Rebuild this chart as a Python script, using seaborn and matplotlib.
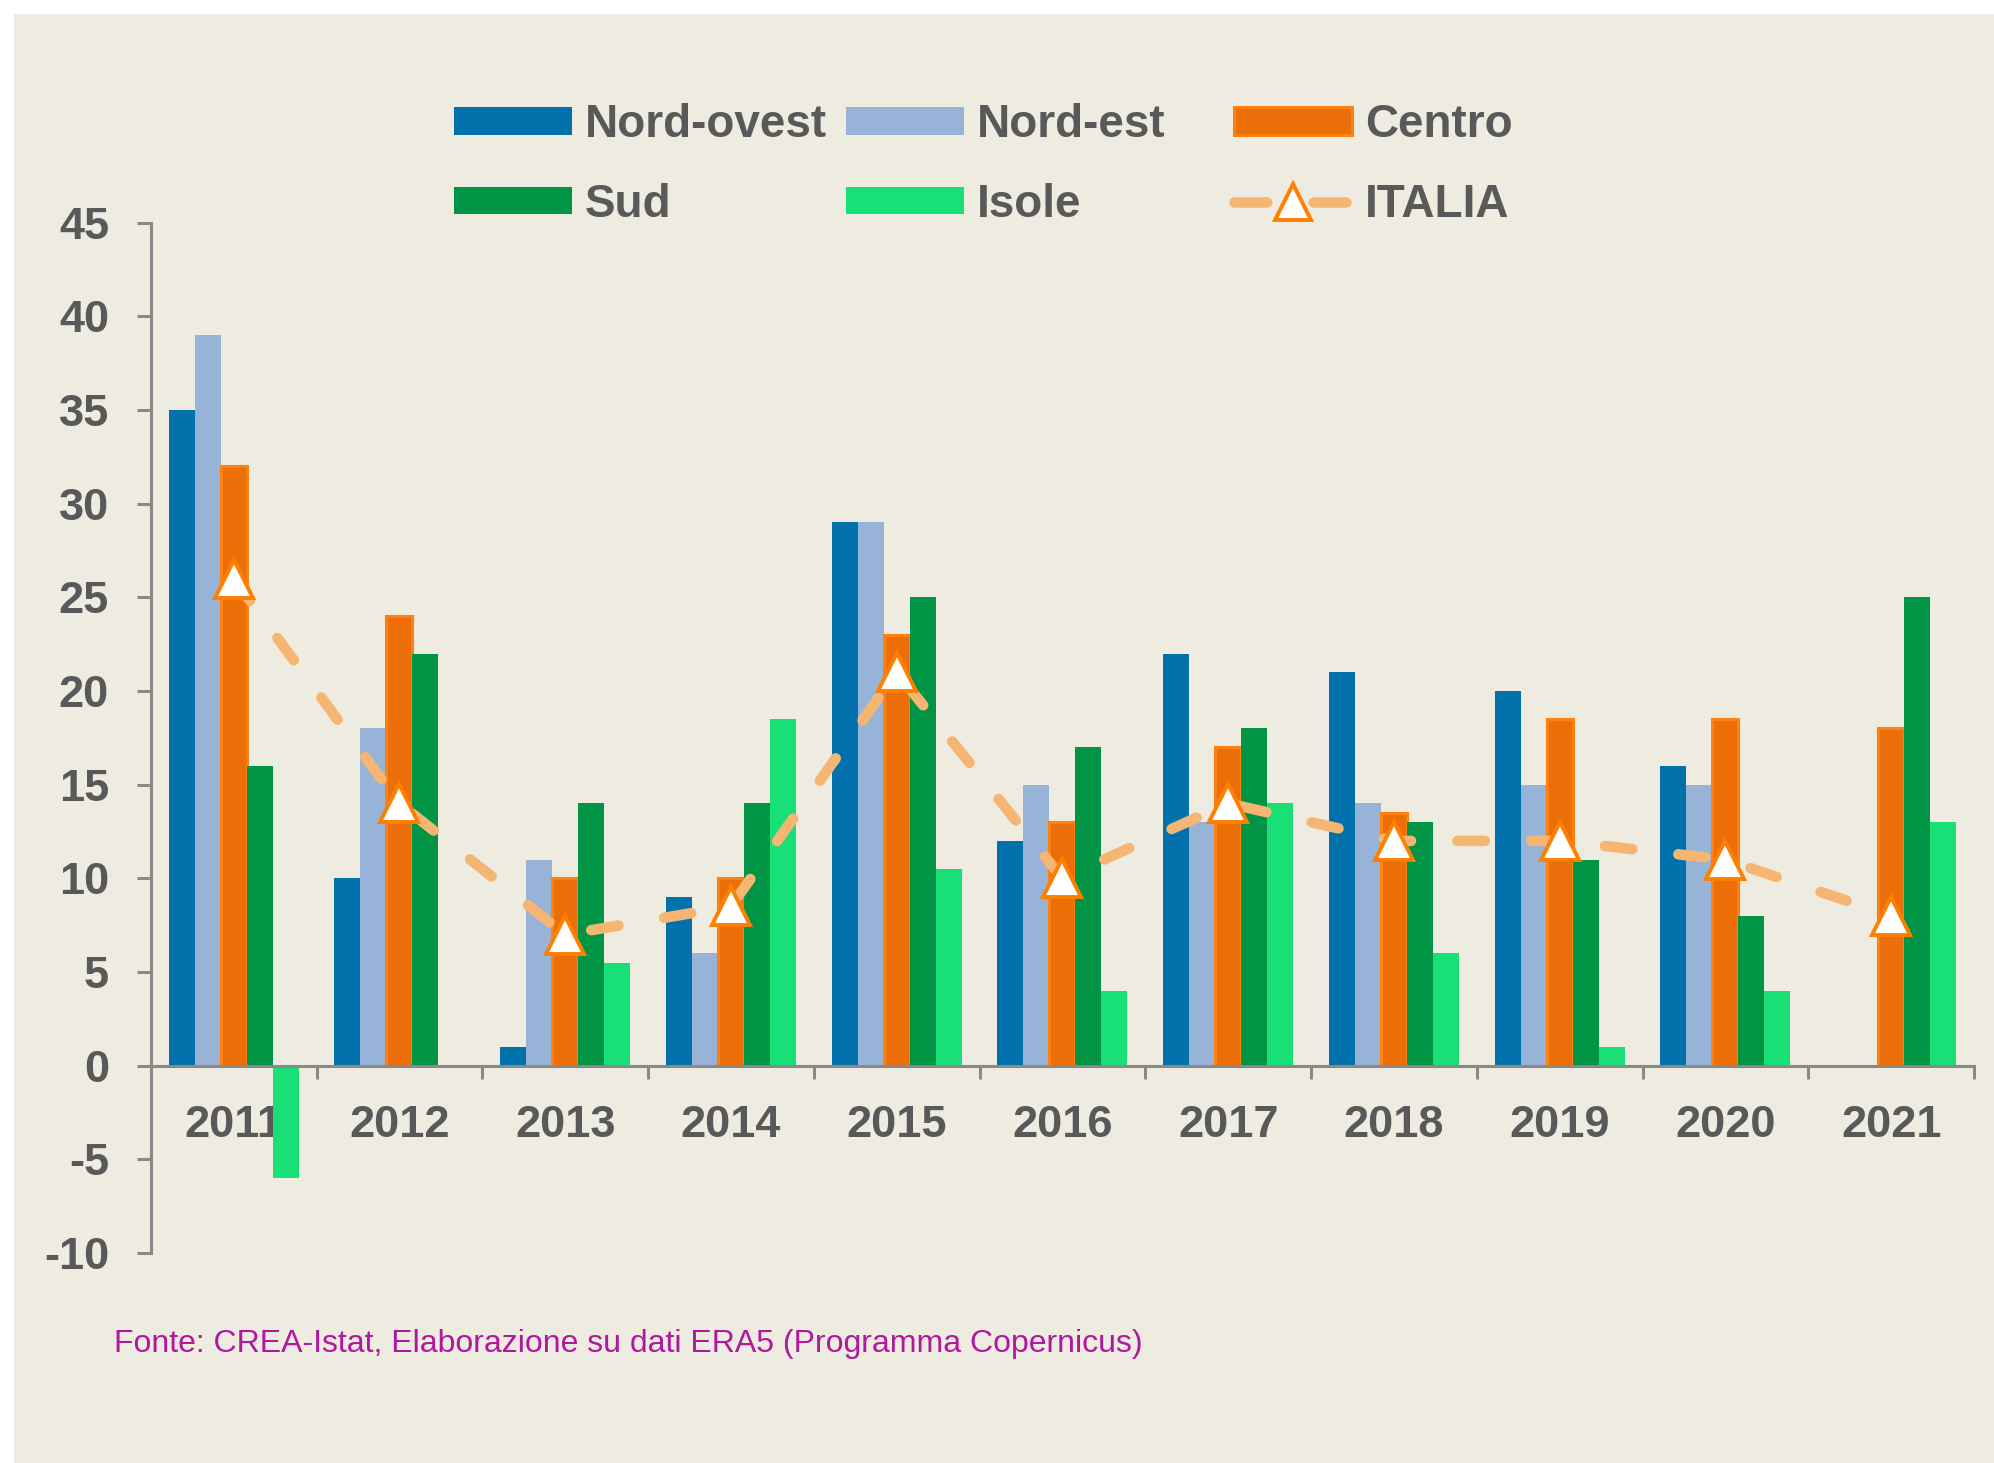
import numpy as np
import pandas as pd
import matplotlib
matplotlib.use("Agg")
import matplotlib.pyplot as plt
import matplotlib.colors as mcolors
import seaborn as sns
from matplotlib.patches import Rectangle, Patch
from matplotlib.lines import Line2D

# ---------------- data ----------------
years = ["2011", "2012", "2013", "2014", "2015", "2016",
         "2017", "2018", "2019", "2020", "2021"]
nord_ovest = [35, 10, 1, 9, 29, 12, 22, 21, 20, 16, np.nan]
nord_est = [39, 18, 11, 6, 29, 15, 13, 14, 15, 15, np.nan]
centro = [32, 24, 10, 10, 23, 13, 17, 13.5, 18.5, 18.5, 18]
sud = [16, 22, 14, 14, 25, 17, 18, 13, 11, 8, 25]
isole = [-6, np.nan, 5.5, 18.5, 10.5, 4, 14, 6, 1, 4, 13]
italia = [26, 14, 7, 8.5, 21, 10, 14, 12, 12, 11, 8]

series_names = ["Nord-ovest", "Nord-est", "Centro", "Sud", "Isole"]
series_values = [nord_ovest, nord_est, centro, sud, isole]
bar_colors = ["#0071AA", "#97B4D8", "#EB6E08", "#009444", "#18E076"]
centro_edge = "#FF7F0F"
line_color = "#F5B673"
marker_edge = "#FF7F00"
BG = "#EEEBE0"
TXT = "#595959"
AXC = "#898989"
source_text = "Fonte: CREA-Istat, Elaborazione su dati ERA5 (Programma Copernicus)"

rows = []
for name, vals in zip(series_names, series_values):
    for y, v in zip(years, vals):
        rows.append({"year": y, "series": name, "value": v})
df = pd.DataFrame(rows).dropna()

# ---------------- style ----------------
sns.set_theme(style="white")
plt.rcParams["font.family"] = ["Liberation Sans", "DejaVu Sans"]
plt.rcParams["font.weight"] = "bold"
plt.rcParams["axes.unicode_minus"] = False

fig = plt.figure(figsize=(19.94, 14.63), dpi=100, facecolor="white")
fig.patches.append(Rectangle((14 / 1994, 0), 1, (1463 - 14) / 1463,
                             transform=fig.transFigure, facecolor=BG,
                             edgecolor="none", zorder=-10))
ax = fig.add_axes([0.0756, 0.1435, 0.9144, 0.7043])
ax.set_facecolor("none")
ax.set_zorder(1)

sns.barplot(data=df, x="year", y="value", hue="series", order=years,
            hue_order=series_names, palette=bar_colors, saturation=1,
            width=0.785, gap=0, errorbar=None, legend=False, ax=ax,
            linewidth=0)

c_rgba = np.array(mcolors.to_rgba(bar_colors[2]))
for p in ax.patches:
    if np.allclose(np.array(p.get_facecolor()), c_rgba, atol=0.01):
        p.set_edgecolor(centro_edge)
        p.set_linewidth(2.2)

sns.pointplot(x=years, y=italia, order=years, color=line_color,
              markers="^", linestyles=(0, (2.6, 4.4)), errorbar=None, ax=ax,
              linewidth=7.6, markersize=27, markerfacecolor="white",
              markeredgecolor=marker_edge, markeredgewidth=2.8,
              dash_capstyle="round", zorder=5)

# ---------------- axes ----------------
ax.set_xlim(-0.5, 10.5)
ax.set_ylim(-10, 45)
ax.set_yticks(range(-10, 46, 5))
ax.set_xlabel("")
ax.set_ylabel("")
for s in ["top", "right"]:
    ax.spines[s].set_visible(False)
ax.spines["left"].set_color(AXC)
ax.spines["left"].set_linewidth(2.2)
ax.spines["bottom"].set_color(AXC)
ax.spines["bottom"].set_linewidth(2.2)
ax.spines["bottom"].set_position(("data", 0))

ax.set_xticks(np.arange(-0.5, 10.6, 1))
ax.set_xticklabels([])
ax.set_xticks(range(len(years)), minor=True)
ax.set_xticklabels(years, minor=True)
ax.tick_params(axis="x", which="major", length=9.4, width=2.2, color=AXC,
               direction="out", bottom=True)
ax.tick_params(axis="x", which="minor", length=0, pad=28, labelsize=32.5,
               labelcolor=TXT, bottom=True)
ax.tick_params(axis="y", length=10, width=2.2, color=AXC, pad=20,
               labelsize=32.5, labelcolor=TXT, left=True)
ax.grid(False)

# ---------------- legend ----------------
handles = {}
for name, col in zip(series_names, bar_colors):
    if name == "Centro":
        handles[name] = Patch(facecolor=col, edgecolor=centro_edge, linewidth=2.2)
    else:
        handles[name] = Patch(facecolor=col, edgecolor="none")
handles["ITALIA"] = Line2D([], [], color=line_color, linewidth=7.6,
                           linestyle=(0, (3.1, 4.4)), dash_capstyle="round",
                           marker="^", markersize=26, markerfacecolor="white",
                           markeredgecolor=marker_edge, markeredgewidth=2.8)

columns = [["Nord-ovest", "Sud"], ["Nord-est", "Isole"], ["Centro", "ITALIA"]]
col_x = [454 / 1994, 846 / 1994, 1234 / 1994]
for labels, x in zip(columns, col_x):
    fig.legend([handles[l] for l in labels], labels, loc="center left",
               bbox_to_anchor=(x, 1 - 165 / 1463), frameon=False,
               borderpad=0, borderaxespad=0, numpoints=1,
               prop={"size": 33, "weight": "bold"}, labelcolor=TXT,
               handlelength=2.58, handleheight=0.55, handletextpad=0.28,
               labelspacing=0.77)

fig.text(114 / 1994, 119 / 1463, source_text, color="#B0189F",
         fontsize=23, fontweight="normal", ha="left", va="center")

fig.savefig("out.png", dpi=100, facecolor="white")
